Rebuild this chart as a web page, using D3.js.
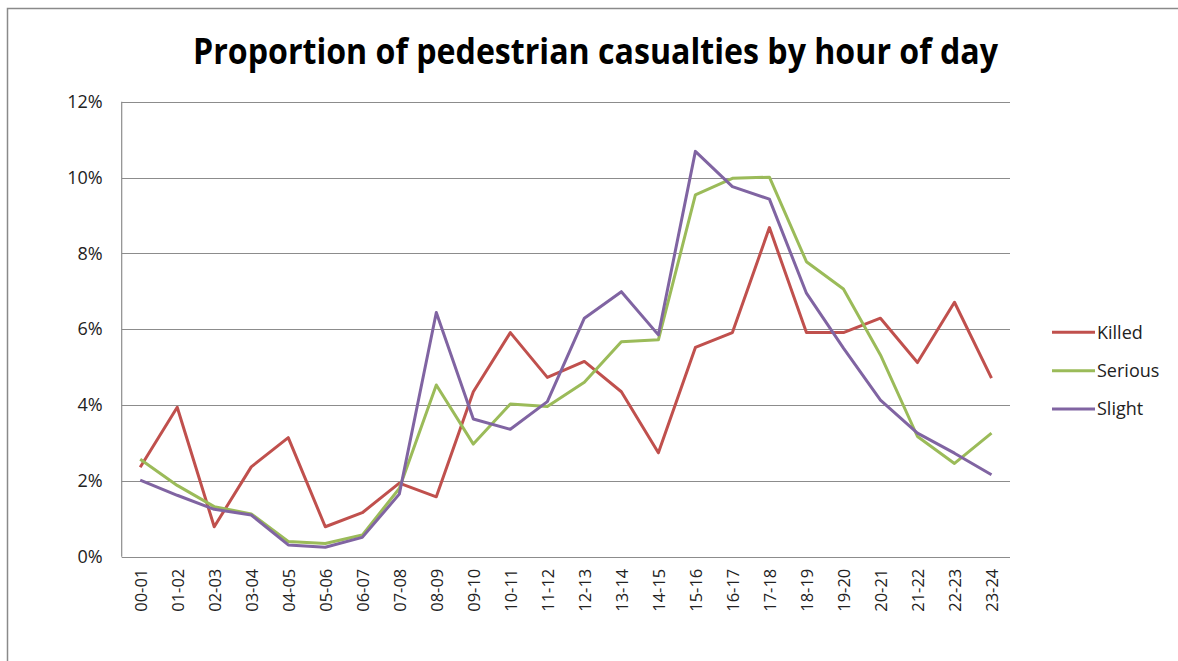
<!DOCTYPE html>
<html>
<head>
<meta charset="utf-8">
<script src="https://cdn.jsdelivr.net/npm/d3@7"></script>
<style>
  html, body { margin: 0; padding: 0; background: #fff; }
  svg { display: block; }
</style>
</head>
<body>
<svg id="chart" width="1178" height="661"></svg>
<script>
const title = "Proportion of pedestrian casualties by hour of day";
const categories = ["00-01","01-02","02-03","03-04","04-05","05-06","06-07","07-08","08-09","09-10","10-11","11-12","12-13","13-14","14-15","15-16","16-17","17-18","18-19","19-20","20-21","21-22","22-23","23-24"];
const killed  = [2.36,3.94,0.79,2.37,3.14,0.79,1.16,1.94,1.58,4.35,5.91,4.73,5.15,4.35,2.74,5.52,5.91,8.68,5.91,5.91,6.29,5.12,6.71,4.71];
const serious = [2.57,1.88,1.32,1.13,0.40,0.35,0.57,1.80,4.53,2.97,4.03,3.96,4.60,5.67,5.72,9.54,9.98,10.01,7.78,7.06,5.32,3.17,2.46,3.26];
const slight  = [2.02,1.62,1.25,1.10,0.31,0.25,0.51,1.65,6.44,3.63,3.36,4.09,6.29,6.99,5.85,10.69,9.76,9.43,6.95,5.50,4.13,3.26,2.73,2.16];
const seriesNames = ["Killed","Serious","Slight"];
const seriesColors = ["#C0504D","#9BBB59","#8064A2"];
const yTicks = [0,2,4,6,8,10,12];

(function(){
const series = [killed, serious, slight];
const svg = d3.select("#chart");

// outer frame
svg.append("rect").attr("x",7.5).attr("y",8.5).attr("width",1200).attr("height",700)
  .attr("fill","none").attr("stroke","#8a8a8a").attr("stroke-width",1.5);

const pL = 121.7, pR = 1010, pT = 101.7, pB = 556.7;
const x = d3.scalePoint().domain(categories).range([pL, pR]).padding(0.5);
const y = d3.scaleLinear().domain([0,12]).range([pB, pT]);

// gridlines
svg.append("g").selectAll("line").data(yTicks).join("line")
  .attr("x1",pL).attr("x2",pR)
  .attr("y1",d=>Math.round(y(d))+0.5).attr("y2",d=>Math.round(y(d))+0.5)
  .attr("stroke","#8c8c8c").attr("stroke-width",1.2);

// left axis line
svg.append("line").attr("x1",pL).attr("x2",pL).attr("y1",pT).attr("y2",pB)
  .attr("stroke","#8c8c8c").attr("stroke-width",1.2);

// y axis labels
const yAxis = d3.axisLeft(y).tickValues(yTicks).tickFormat(d=>d+"%").tickSize(0).tickPadding(19);
const gy = svg.append("g").attr("transform",`translate(${pL},0)`).call(yAxis);
gy.select(".domain").remove();
gy.selectAll("text").attr("font-family","'Open Sans', sans-serif").attr("font-size",18).attr("fill","#222");

// x axis labels
const xAxis = d3.axisBottom(x).tickSize(0).tickPadding(0);
const gx = svg.append("g").attr("transform",`translate(0,${pB})`).call(xAxis);
gx.select(".domain").remove();
gx.selectAll("text")
  .attr("font-family","'Open Sans', sans-serif").attr("font-size",16.5).attr("fill","#222")
  .attr("text-anchor","end").attr("dy",null).attr("y",0)
  .attr("transform","translate(6,12) rotate(-90)");

// lines
const line = d3.line().x((d,i)=>x(categories[i])).y(d=>y(d));
series.forEach((s,k)=>{
  svg.append("path").datum(s).attr("d",line).attr("fill","none")
    .attr("stroke",seriesColors[k]).attr("stroke-width",3).attr("stroke-linejoin","round");
});

// legend
const legY = [332.3, 370.7, 409];
seriesNames.forEach((n,k)=>{
  svg.append("line").attr("x1",1052).attr("x2",1095).attr("y1",legY[k]).attr("y2",legY[k])
    .attr("stroke",seriesColors[k]).attr("stroke-width",3);
  svg.append("text").attr("x",1097).attr("y",legY[k]).attr("dy","0.35em")
    .attr("font-family","'Open Sans', sans-serif").attr("font-size",18).attr("fill","#222").text(n);
});

// title
svg.append("text").attr("x",595.5).attr("y",64).attr("text-anchor","middle")
  .attr("font-family","'Liberation Sans Narrow', 'Open Sans', sans-serif").attr("font-weight","bold")
  .attr("font-size",35).attr("fill","#000")
  .attr("textLength",805).attr("lengthAdjust","spacingAndGlyphs").text(title);
})();
</script>
</body>
</html>
